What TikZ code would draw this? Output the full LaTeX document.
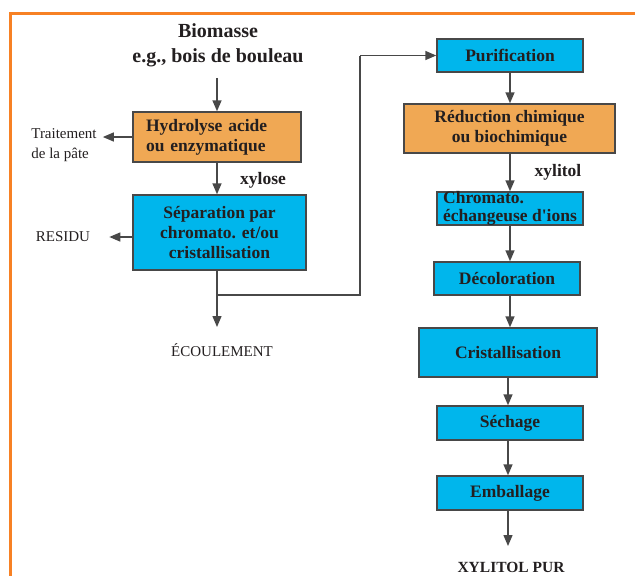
\documentclass[tikz,border=0pt]{standalone}
\usepackage{fontspec}
\setmainfont{Liberation Serif}
\newfontfamily\rawserif{Liberation Serif}[Ligatures=Common]
\usetikzlibrary{arrows.meta,calc}
\definecolor{boxorange}{RGB}{240,168,84}
\definecolor{boxblue}{RGB}{0,182,236}
\definecolor{frameorange}{RGB}{247,129,36}
\definecolor{linegray}{RGB}{72,72,72}
\definecolor{textdark}{RGB}{35,31,32}
\begin{document}
\begin{tikzpicture}[x=1pt,y=-1pt,
  box/.style={draw=linegray, line width=1.4pt, inner sep=0pt,
    font=\fontsize{17.5}{20}\selectfont\bfseries, text=textdark, align=center},
  obox/.style={box, fill=boxorange},
  bbox/.style={box, fill=boxblue},
  arr/.style={draw=linegray, line width=1.4pt, -{Triangle[length=11pt,width=9pt]}},
  plain/.style={draw=linegray, line width=1.4pt},
  lbl/.style={font=\fontsize{15}{20}\selectfont, text=textdark, inner sep=0pt},
  blbl/.style={font=\fontsize{17.5}{20}\selectfont\bfseries, text=textdark, inner sep=0pt},
  frame/.style={draw=frameorange, line width=3pt}
]
\useasboundingbox (0,0) rectangle (635,576);
% frame
\draw[frame] (10,576) -- (10,13) -- (635,13);

% left column
\node[font=\fontsize{20}{25}\selectfont\bfseries, text=textdark, align=center, inner sep=0pt] (bio) at (218,45) {Biomasse\\e.g., bois de bouleau};
\node[obox, minimum width=168pt, minimum height=50pt, text width=142pt, align=left] (hyd) at (217,137) {Hydrolyse acide\\ou enzymatique};
\node[bbox, minimum width=173pt, minimum height=75pt] (sep) at (219.5,232.5) {Séparation par\\chromato. et/ou\\cristallisation};
\node[lbl, align=left] (trait) at (64,145) {Traitement\\de la pâte};
\node[lbl] (resid) at (63,237) {RESIDU};
\node[lbl] (ecoul) at (222,350) {ÉCOULEMENT};
\node[blbl] (xylose) at (263,180) {xylose};
\coordinate (junc) at (217,295);
\coordinate (ecoulend) at (217,327);

% right column
\node[bbox, minimum width=146pt, minimum height=33pt] (pur) at (510,55.5) {Purification};
\node[obox, minimum width=211pt, minimum height=49pt] (red) at (509.5,128.5) {Réduction chimique\\ou biochimique};
\node[bbox, minimum width=146pt, minimum height=33pt] (chr) at (510,208.5) {};
\node[blbl, align=left, font=\fontsize{17.5}{18}\selectfont\bfseries] (chrtext) at (chr.center) {Chromato.\\échangeuse d{\rawserif\bfseries '}ions};
\node[bbox, minimum width=146pt, minimum height=33pt] (dec) at (507,278.5) {Décoloration};
\node[bbox, minimum width=178pt, minimum height=49pt] (cri) at (508,352.5) {Cristallisation};
\node[bbox, minimum width=146pt, minimum height=34pt] (sec) at (510,423) {Séchage};
\node[bbox, minimum width=146pt, minimum height=34pt] (emb) at (510,493) {Emballage};
\node[blbl, font=\fontsize{15.5}{18}\selectfont\bfseries] (xyl) at (511,567) {XYLITOL PUR};
\node[blbl] (xylitol) at (558,172) {xylitol};
\coordinate (xylend) at (508,546);

% connectors left
\draw[arr, shorten <=11pt] (bio.south -| hyd.north) -- (hyd.north);
\draw[arr, shorten >=6pt] (hyd.west) -- (trait.east |- hyd.west);
\draw[arr] (hyd.south) -- (hyd.south |- sep.north);
\draw[arr, shorten >=19pt] (sep.west |- resid.east) -- (resid.east);
\draw[arr] (sep.south -| hyd.south) -- (ecoulend);
\draw[plain] (junc) -- (360,295) -- (360,55.5);
\draw[arr] (360,55.5) -- (pur.west);

% connectors right
\draw[arr] (pur.south) -- (pur.south |- red.north);
\draw[arr] (red.south -| pur.south) -- (pur.south |- chr.north);
\draw[arr] (chr.south) -- (chr.south |- dec.north);
\draw[arr] (dec.south -| chr.south) -- (chr.south |- cri.north);
\draw[arr] (cri.south -| xylend) -- (sec.north -| xylend);
\draw[arr] (sec.south -| xylend) -- (emb.north -| xylend);
\draw[arr] (emb.south -| xylend) -- (xylend);
\end{tikzpicture}
\end{document}
